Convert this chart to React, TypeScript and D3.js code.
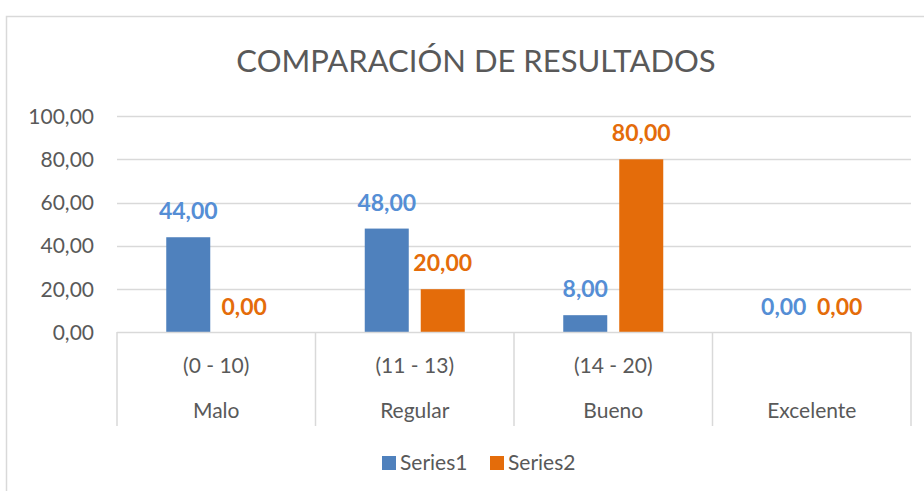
import { useEffect, useRef } from "react";
import * as d3 from "d3";

const ranges = ["(0 - 10)", "(11 - 13)", "(14 - 20)", ""];
const levels = ["Malo", "Regular", "Bueno", "Excelente"];
const seriesNames = ["Series1", "Series2"];
const series1 = [44, 48, 8, 0];
const series2 = [0, 20, 80, 0];
const yTicks = [0, 20, 40, 60, 80, 100];

export default function App() {
  const chartRef = useRef<SVGSVGElement>(null);

  useEffect(() => {
    if (!chartRef.current) return;
    d3.select(chartRef.current).selectAll("*").remove();

    const width = 924;
    const height = 491;
    const font = "Lato, 'Open Sans', sans-serif";
    const textColor = "#595959";
    const gridColor = "#D9D9D9";
    const colors = ["#4F81BD", "#E46C0A"];
    const labelColors = ["#558ED5", "#E46C0A"];

    const locale = d3.formatLocale({
      decimal: ",",
      thousands: ".",
      grouping: [3],
      currency: ["", ""],
    });
    const fmt = locale.format(".2f");

    const data = levels.map((lvl, i) => ({
      key: lvl,
      range: ranges[i],
      values: [series1[i], series2[i]],
    }));

    const svg = d3
      .select(chartRef.current)
      .attr("width", width)
      .attr("height", height)
      .style("position", "absolute")
      .style("left", "0px")
      .style("top", "0px")
      .style("background", "#fff");

    // chart border
    svg
      .append("rect")
      .attr("x", 6.5)
      .attr("y", 16.5)
      .attr("width", 960)
      .attr("height", 520)
      .attr("fill", "#fff")
      .attr("stroke", gridColor)
      .attr("stroke-width", 1.5);

    // title
    svg
      .append("text")
      .attr("x", 476)
      .attr("y", 72)
      .attr("text-anchor", "middle")
      .style("font-family", font)
      .style("font-size", "31px")
      .style("fill", textColor)
      .text("COMPARACIÓN DE RESULTADOS");

    const x0 = d3
      .scaleBand()
      .domain(levels)
      .range([117, 911])
      .padding(0);

    const x1 = d3
      .scaleBand()
      .domain(seriesNames)
      .range([x0.bandwidth() / 2 - 50, x0.bandwidth() / 2 + 50])
      .paddingInner(0.214);

    const y = d3.scaleLinear().domain([0, 100]).range([332.5, 116]);

    // gridlines
    svg
      .append("g")
      .selectAll("line")
      .data(yTicks.filter((t) => t > 0))
      .join("line")
      .attr("x1", 117)
      .attr("x2", 911)
      .attr("y1", (d) => Math.round(y(d)) + 0.5)
      .attr("y2", (d) => Math.round(y(d)) + 0.5)
      .attr("stroke", gridColor)
      .attr("stroke-width", 1.5);

    // y tick labels
    svg
      .append("g")
      .selectAll("text")
      .data(yTicks)
      .join("text")
      .attr("x", 94)
      .attr("y", (d) => y(d) + 7.5)
      .attr("text-anchor", "end")
      .style("font-family", font)
      .style("font-size", "21px")
      .style("fill", textColor)
      .text((d) => fmt(d));

    // bars
    const groups = svg
      .append("g")
      .selectAll("g")
      .data(data)
      .join("g")
      .attr("transform", (d) => `translate(${x0(d.key)},0)`);

    groups
      .selectAll("rect")
      .data((d) => d.values.map((v, j) => ({ v, j })))
      .join("rect")
      .attr("x", (d) => x1(seriesNames[d.j]) || 0)
      .attr("y", (d) => y(d.v))
      .attr("width", x1.bandwidth())
      .attr("height", (d) => y(0) - y(d.v))
      .attr("fill", (d) => colors[d.j]);

    groups
      .selectAll("text")
      .data((d) => d.values.map((v, j) => ({ v, j })))
      .join("text")
      .attr("x", (d) => (x1(seriesNames[d.j]) || 0) + x1.bandwidth() / 2)
      .attr("y", (d) => y(d.v) - 18)
      .attr("text-anchor", "middle")
      .style("font-family", font)
      .style("font-size", "23px")
      .style("font-weight", "bold")
      .style("fill", (d) => labelColors[d.j])
      .text((d) => fmt(d.v));

    // multi-level category axis
    const axis = svg.append("g");
    axis
      .append("line")
      .attr("x1", 117)
      .attr("x2", 911)
      .attr("y1", 332.5)
      .attr("y2", 332.5)
      .attr("stroke", gridColor)
      .attr("stroke-width", 1.5);

    const edges = levels.map((l) => x0(l) || 0).concat([x0.range()[1]]);
    axis
      .selectAll("line.sep")
      .data(edges)
      .join("line")
      .attr("class", "sep")
      .attr("x1", (d) => d)
      .attr("x2", (d) => d)
      .attr("y1", 332)
      .attr("y2", 426)
      .attr("stroke", gridColor)
      .attr("stroke-width", 1.5);

    axis
      .selectAll("text.range")
      .data(data)
      .join("text")
      .attr("class", "range")
      .attr("x", (d) => (x0(d.key) || 0) + x0.bandwidth() / 2)
      .attr("y", 373)
      .attr("text-anchor", "middle")
      .style("font-family", font)
      .style("font-size", "21px")
      .style("fill", textColor)
      .text((d) => d.range);

    axis
      .selectAll("text.level")
      .data(data)
      .join("text")
      .attr("class", "level")
      .attr("x", (d) => (x0(d.key) || 0) + x0.bandwidth() / 2)
      .attr("y", 418)
      .attr("text-anchor", "middle")
      .style("font-family", font)
      .style("font-size", "21px")
      .style("fill", textColor)
      .text((d) => d.key);

    // legend
    const legendX = [382, 490];
    const legend = svg
      .append("g")
      .selectAll("g")
      .data(seriesNames)
      .join("g")
      .attr("transform", (_, i) => `translate(${legendX[i]},456)`);

    legend
      .append("rect")
      .attr("width", 14)
      .attr("height", 14)
      .attr("fill", (_, i) => colors[i]);

    legend
      .append("text")
      .attr("x", 18)
      .attr("y", 13.5)
      .style("font-family", font)
      .style("font-size", "21px")
      .style("fill", textColor)
      .text((d) => d);
  }, []);

  return <svg ref={chartRef}></svg>;
}
